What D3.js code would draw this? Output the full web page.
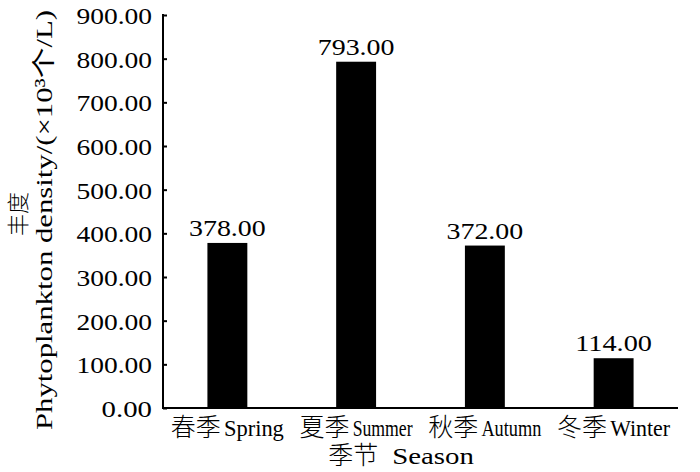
<!DOCTYPE html>
<html><head><meta charset="utf-8">
<script src="https://cdn.jsdelivr.net/npm/d3@7"></script>
<style>
html,body{margin:0;padding:0;background:#fff;}
svg text{font-family:"Liberation Serif","Noto Sans CJK SC",serif;fill:#000;}
svg text.cjk{font-family:"Noto Sans CJK SC",sans-serif;font-weight:300;}
</style></head>
<body><svg id="c" width="700" height="472"></svg>
<script>
const categories = ["春季 Spring", "夏季 Summer", "秋季 Autumn", "冬季 Winter"];
const values = [378, 793, 372, 114];
const yTicks = [0, 100, 200, 300, 400, 500, 600, 700, 800, 900];
const xTitle = "季节 Season";
const yTitle1 = "丰度";
const yTitle2 = "Phytoplankton density/(×10³个/L)";

const svg = d3.select("#c");
const x0 = 163, x1 = 678, yTop = 15, yBot = 408;
const x = d3.scaleBand().domain(categories).range([x0, x1]).paddingInner(0.69).paddingOuter(0.345);
const y = d3.scaleLinear().domain([0, 900]).range([yBot, yTop]);

function numText(sel, perChar) {
  sel.each(function() {
    const s = d3.select(this);
    s.attr("textLength", s.text().length * perChar).attr("lengthAdjust", "spacingAndGlyphs");
  });
}

// bars
svg.selectAll("rect.bar").data(values).enter().append("rect")
  .attr("class", "bar")
  .attr("x", (d, i) => x(categories[i]))
  .attr("width", x.bandwidth())
  .attr("y", d => y(d))
  .attr("height", d => y(0) - y(d))
  .attr("fill", "#000");

// value labels
svg.selectAll("text.val").data(values).enter().append("text")
  .attr("class", "val")
  .attr("x", (d, i) => x(categories[i]) + x.bandwidth() / 2)
  .attr("y", d => y(d) - 7)
  .attr("text-anchor", "middle")
  .style("font-size", "23px")
  .text(d => d.toFixed(2))
  .call(numText, 12.8);

// y axis ticks (inward)
const yAxis = d3.axisRight(y).tickValues(yTicks).tickSize(4).tickFormat("");
const gy = svg.append("g").attr("transform", `translate(${x0},0)`).call(yAxis);
gy.select(".domain").remove();
gy.selectAll(".tick line").attr("stroke", "#000").attr("stroke-width", 2);
svg.append("line").attr("x1", x0).attr("x2", x0).attr("y1", yTop - 1).attr("y2", yBot + 1)
  .attr("stroke", "#000").attr("stroke-width", 2);
svg.append("line").attr("x1", x0).attr("x2", x1).attr("y1", yBot).attr("y2", yBot)
  .attr("stroke", "#000").attr("stroke-width", 2);

// y tick labels
svg.selectAll("text.yt").data(yTicks).enter().append("text")
  .attr("class", "yt")
  .attr("x", 152).attr("y", d => y(d) + 9)
  .attr("text-anchor", "end")
  .style("font-size", "23px")
  .text(d => d.toFixed(2))
  .call(numText, 12.6);

function mixedLabel(str, cx, by, cjkSize, latSize, perChar, gap) {
  const parts = str.split(" ");
  const a = svg.append("text").attr("class", "cjk").attr("y", by)
    .style("font-size", cjkSize + "px").text(parts[0]);
  const b = svg.append("text").attr("y", by)
    .style("font-size", latSize + "px").text(parts[1])
    .attr("textLength", parts[1].length * perChar).attr("lengthAdjust", "spacingAndGlyphs");
  const wa = a.node().getComputedTextLength();
  const wb = parts[1].length * perChar;
  const start = cx - (wa + gap + wb) / 2;
  a.attr("x", start);
  b.attr("x", start + wa + gap);
}

categories.forEach(c => mixedLabel(c, x(c) + x.bandwidth() / 2, 436, 25, 23, 10, 3));

// x title
mixedLabel(xTitle, 401, 464, 25, 24, 13.6, 14);

// y titles
svg.append("text").attr("class", "cjk").attr("transform", "translate(18,214) rotate(-90)")
  .attr("text-anchor", "middle").attr("dy", "0.35em")
  .style("font-size", "22px").text(yTitle1);
svg.append("text").attr("transform", "translate(44,220) rotate(-90)")
  .attr("text-anchor", "middle").attr("dy", "0.35em")
  .attr("textLength", 420).attr("lengthAdjust", "spacingAndGlyphs")
  .style("font-size", "24px").text(yTitle2);
</script></body></html>
